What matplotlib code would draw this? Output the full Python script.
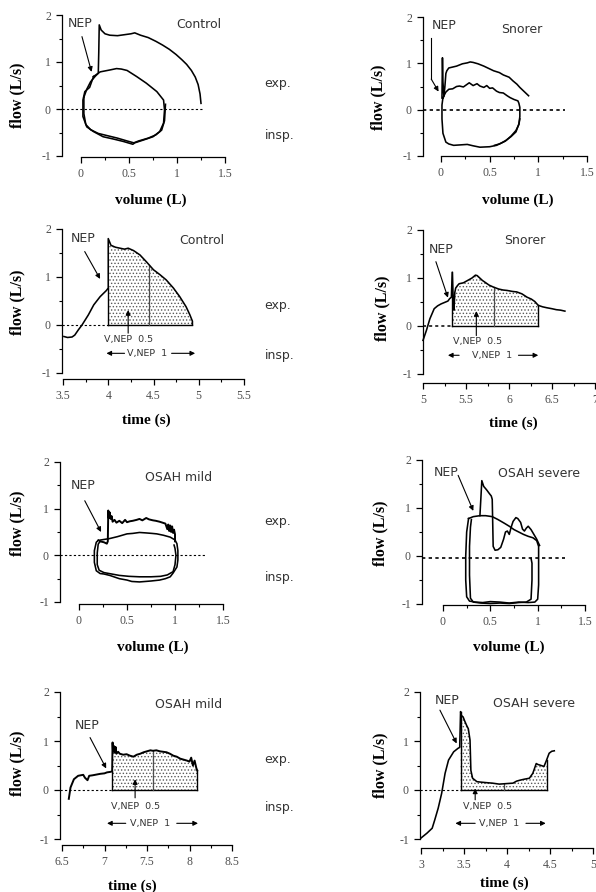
import numpy as np
import matplotlib
matplotlib.use("Agg")
import matplotlib.pyplot as plt
import matplotlib.transforms as mtransforms
from matplotlib.ticker import MultipleLocator, FuncFormatter

W, H = 596, 892
SANS = ["DejaVu Sans"]

plt.rcParams["font.family"] = ["Liberation Serif", "DejaVu Serif"]
plt.rcParams["axes.unicode_minus"] = False
plt.rcParams["hatch.linewidth"] = 0.6

# ---------------- data ----------------
# Control, flow-volume
ctrl_nep_vol = [0.03, 0.06, 0.10, 0.15, 0.18, 0.185, 0.19, 0.21, 0.25, 0.30, 0.38, 0.45,
                0.52, 0.56, 0.62, 0.70, 0.78, 0.85, 0.92, 0.99, 1.05, 1.10, 1.15, 1.19,
                1.22, 1.24, 1.25]
ctrl_nep_flow = [0.25, 0.42, 0.58, 0.70, 0.76, 1.20, 1.79, 1.68, 1.60, 1.57, 1.56, 1.58,
                 1.60, 1.62, 1.57, 1.52, 1.44, 1.36, 1.27, 1.16, 1.05, 0.95, 0.82, 0.68,
                 0.52, 0.32, 0.12]
ctrl_loop_vol = [0.13, 0.20, 0.30, 0.37, 0.42, 0.48, 0.58, 0.68, 0.79, 0.86, 0.87, 0.86,
                 0.82, 0.75, 0.65, 0.56, 0.54, 0.44, 0.34, 0.23, 0.13, 0.06, 0.02, 0.02,
                 0.04, 0.09, 0.13]
ctrl_loop_flow = [0.69, 0.79, 0.83, 0.86, 0.85, 0.82, 0.69, 0.55, 0.37, 0.19, -0.02, -0.30,
                  -0.48, -0.59, -0.66, -0.72, -0.75, -0.69, -0.64, -0.59, -0.48, -0.38,
                  -0.16, 0.19, 0.37, 0.46, 0.69]
ctrl_insp_vol = [0.88, 0.87, 0.84, 0.78, 0.70, 0.60, 0.55, 0.48, 0.38, 0.28, 0.18, 0.10,
                 0.05, 0.03, 0.03, 0.03]
ctrl_insp_flow = [0.10, -0.25, -0.45, -0.55, -0.62, -0.68, -0.72, -0.68, -0.62, -0.57,
                  -0.52, -0.44, -0.33, -0.10, 0.10, 0.25]

# Snorer, flow-volume
snr_nep_vol = [0.01, 0.015, 0.02, 0.03, 0.04, 0.05, 0.06, 0.08, 0.12, 0.16, 0.22, 0.27,
               0.30, 0.33, 0.38, 0.44, 0.50, 0.54, 0.60, 0.64, 0.70, 0.74, 0.78, 0.81,
               0.86, 0.90]
snr_nep_flow = [0.25, 1.12, 0.60, 0.28, 0.50, 0.78, 0.84, 0.90, 0.92, 0.94, 0.99, 1.01,
                1.03, 1.02, 0.99, 0.94, 0.88, 0.84, 0.80, 0.75, 0.70, 0.62, 0.55, 0.48,
                0.38, 0.30]
snr_loop_vol = [0.02, 0.05, 0.08, 0.12, 0.16, 0.19, 0.23, 0.27, 0.29, 0.33, 0.37, 0.40,
                0.44, 0.47, 0.50, 0.53, 0.57, 0.60, 0.64, 0.68, 0.71, 0.75, 0.79, 0.80,
                0.81, 0.81, 0.80, 0.77, 0.72, 0.67, 0.62, 0.57, 0.50, 0.40, 0.33, 0.27,
                0.20, 0.13, 0.08, 0.05, 0.02, 0.01, 0.01, 0.02]
snr_loop_flow = [0.26, 0.38, 0.44, 0.45, 0.50, 0.51, 0.49, 0.55, 0.58, 0.52, 0.56, 0.51,
                 0.48, 0.52, 0.46, 0.47, 0.40, 0.37, 0.36, 0.30, 0.26, 0.22, 0.19, 0.14,
                 0.05, -0.15, -0.31, -0.48, -0.58, -0.66, -0.72, -0.77, -0.80, -0.81,
                 -0.78, -0.75, -0.76, -0.77, -0.74, -0.70, -0.51, -0.20, 0.10, 0.26]
snr_insp_vol = [0.81, 0.80, 0.77, 0.72, 0.66, 0.60, 0.55]
snr_insp_flow = [-0.20, -0.32, -0.45, -0.57, -0.68, -0.74, -0.77]

# Control, flow-time
ctrl_t = [3.51, 3.55, 3.60, 3.63, 3.67, 3.71, 3.78, 3.84, 3.91, 3.98, 4.00, 4.00, 4.03,
          4.08, 4.13, 4.18, 4.22, 4.28, 4.35, 4.42, 4.50, 4.57, 4.64, 4.72, 4.79, 4.86,
          4.90, 4.93, 4.93]
ctrl_flow = [-0.24, -0.26, -0.25, -0.21, -0.10, 0.00, 0.21, 0.42, 0.59, 0.72, 0.77, 1.80,
             1.66, 1.62, 1.60, 1.58, 1.60, 1.55, 1.46, 1.32, 1.15, 1.05, 0.94, 0.77, 0.59,
             0.38, 0.22, 0.08, 0.00]
ctrl_nep_t, ctrl_end_t, ctrl_half_t = 4.00, 4.93, 4.45

# Snorer, flow-time
snr_t = [5.00, 5.04, 5.08, 5.13, 5.17, 5.21, 5.25, 5.29, 5.31, 5.33, 5.34, 5.35, 5.36,
         5.37, 5.38, 5.40, 5.42, 5.47, 5.52, 5.57, 5.61, 5.63, 5.66, 5.69, 5.73, 5.77,
         5.82, 5.88, 5.93, 5.98, 6.04, 6.09, 6.15, 6.21, 6.26, 6.30, 6.34, 6.39, 6.44,
         6.50, 6.55, 6.60, 6.65]
snr_flow = [-0.30, -0.09, 0.15, 0.36, 0.42, 0.46, 0.49, 0.52, 0.57, 0.60, 1.12, 0.60,
            0.33, 0.70, 0.79, 0.84, 0.88, 0.90, 0.95, 1.00, 1.06, 1.05, 1.00, 0.95, 0.90,
            0.85, 0.81, 0.77, 0.75, 0.74, 0.72, 0.71, 0.67, 0.60, 0.56, 0.51, 0.43, 0.40,
            0.38, 0.36, 0.34, 0.33, 0.31]
snr_nep_t, snr_end_t, snr_half_t = 5.34, 6.34, 5.83

# OSAH mild, flow-volume
mild_loop_vol = [0.20, 0.26, 0.32, 0.40, 0.50, 0.56, 0.63, 0.70, 0.76, 0.81, 0.88, 0.95,
                 1.00, 1.02, 1.03, 1.03, 1.02, 0.98, 0.95, 0.90, 0.84, 0.75, 0.63, 0.55,
                 0.50, 0.42, 0.32, 0.26, 0.22, 0.18, 0.16, 0.16, 0.18, 0.20]
mild_loop_flow = [0.32, 0.34, 0.36, 0.40, 0.46, 0.47, 0.49, 0.48, 0.47, 0.46, 0.43, 0.39,
                  0.33, 0.25, 0.10, -0.10, -0.25, -0.38, -0.46, -0.50, -0.53, -0.55,
                  -0.57, -0.56, -0.53, -0.50, -0.43, -0.40, -0.39, -0.33, -0.15, 0.10,
                  0.28, 0.32]
mild_insp_vol = [0.22, 0.20, 0.19, 0.19, 0.21, 0.26, 0.34, 0.42, 0.52, 0.63, 0.75, 0.85,
                 0.92, 0.98, 1.00, 1.01, 1.00, 0.99]
mild_insp_flow = [0.30, 0.24, 0.05, -0.20, -0.32, -0.37, -0.40, -0.43, -0.45, -0.46,
                  -0.46, -0.45, -0.42, -0.35, -0.20, 0.00, 0.15, 0.22]
mild_nep_vol = [0.22, 0.26, 0.29, 0.30, 0.305, 0.31, 0.32, 0.33, 0.34, 0.35, 0.37, 0.39,
                0.42, 0.45, 0.48, 0.50, 0.53, 0.56, 0.60, 0.63, 0.66, 0.70, 0.73, 0.77,
                0.80, 0.84, 0.87, 0.90, 0.92, 0.93, 0.94, 0.95, 0.96, 0.97, 0.98, 0.99,
                1.00, 1.00]
mild_nep_flow = [0.30, 0.28, 0.25, 0.30, 0.96, 0.80, 0.92, 0.78, 0.84, 0.72, 0.76, 0.70,
                 0.74, 0.69, 0.76, 0.71, 0.73, 0.74, 0.76, 0.78, 0.75, 0.80, 0.77, 0.75,
                 0.74, 0.72, 0.70, 0.68, 0.56, 0.66, 0.52, 0.64, 0.50, 0.62, 0.48, 0.55,
                 0.45, 0.30]

# OSAH severe, flow-volume
sev_loop_vol = [0.27, 0.32, 0.39, 0.45, 0.52, 0.58, 0.65, 0.70, 0.75, 0.80, 0.85, 0.90,
                0.95, 0.99, 1.01, 1.01, 1.01, 1.00, 0.97, 0.90, 0.80, 0.70, 0.60, 0.50,
                0.42, 0.34, 0.28, 0.25, 0.24, 0.24, 0.25, 0.27]
sev_loop_flow = [0.78, 0.82, 0.84, 0.84, 0.82, 0.76, 0.68, 0.62, 0.55, 0.50, 0.45, 0.41,
                 0.38, 0.32, 0.20, -0.20, -0.60, -0.90, -0.96, -0.97, -0.96, -0.98, -0.96,
                 -0.95, -0.97, -0.96, -0.94, -0.85, -0.50, 0.00, 0.50, 0.78]
sev_insp_vol = [0.30, 0.29, 0.28, 0.28, 0.29, 0.32, 0.40, 0.50, 0.60, 0.70, 0.80, 0.88,
                0.93, 0.94, 0.94, 0.93]
sev_insp_flow = [0.76, 0.60, 0.20, -0.40, -0.88, -0.96, -0.98, -0.99, -0.98, -0.99, -0.97,
                 -0.96, -0.90, -0.50, -0.15, -0.05]
sev_nep_vol = [0.39, 0.40, 0.41, 0.43, 0.46, 0.49, 0.51, 0.52, 0.525, 0.53, 0.55, 0.58,
               0.61, 0.64, 0.66, 0.68, 0.70, 0.72, 0.74, 0.77, 0.79, 0.82, 0.84, 0.86,
               0.88, 0.90, 0.93, 0.96, 0.99, 1.02]
sev_nep_flow = [0.84, 1.20, 1.57, 1.45, 1.38, 1.30, 1.25, 1.18, 0.70, 0.20, 0.12, 0.13,
                0.18, 0.35, 0.50, 0.52, 0.45, 0.60, 0.72, 0.80, 0.78, 0.70, 0.56, 0.52,
                0.58, 0.62, 0.55, 0.45, 0.35, 0.22]

# OSAH mild, flow-time
mildt_t = [6.58, 6.60, 6.64, 6.69, 6.75, 6.77, 6.80, 6.82, 6.86, 6.89, 6.95, 7.00, 7.03,
           7.07, 7.09, 7.095, 7.10, 7.11, 7.12, 7.13, 7.14, 7.16, 7.18, 7.22, 7.26, 7.30,
           7.34, 7.38, 7.42, 7.46, 7.50, 7.54, 7.57, 7.61, 7.65, 7.69, 7.73, 7.77, 7.81,
           7.85, 7.89, 7.93, 7.97, 8.00, 8.02, 8.04, 8.06, 8.08, 8.09]
mildt_flow = [-0.18, 0.05, 0.22, 0.29, 0.31, 0.25, 0.20, 0.29, 0.30, 0.31, 0.33, 0.34,
              0.36, 0.37, 0.38, 0.97, 0.80, 0.90, 0.76, 0.88, 0.74, 0.78, 0.74, 0.72,
              0.73, 0.70, 0.68, 0.72, 0.74, 0.77, 0.79, 0.81, 0.80, 0.81, 0.79, 0.78,
              0.77, 0.74, 0.70, 0.68, 0.64, 0.62, 0.60, 0.58, 0.66, 0.50, 0.60, 0.45, 0.40]
mildt_nep_t, mildt_end_t, mildt_half_t = 7.09, 8.09, 7.57

# OSAH severe, flow-time
sevt_t = [3.00, 3.07, 3.13, 3.16, 3.20, 3.24, 3.28, 3.32, 3.38, 3.43, 3.45, 3.46, 3.47,
          3.49, 3.51, 3.53, 3.55, 3.57, 3.58, 3.60, 3.65, 3.70, 3.76, 3.83, 3.91, 3.99,
          4.07, 4.11, 4.15, 4.20, 4.26, 4.30, 4.34, 4.36, 4.38, 4.43, 4.46, 4.49, 4.52,
          4.55]
sevt_flow = [-0.98, -0.88, -0.78, -0.61, -0.37, -0.07, 0.34, 0.61, 0.78, 0.85, 0.87, 1.60,
             1.52, 1.49, 1.40, 1.32, 1.25, 1.02, 0.40, 0.24, 0.17, 0.16, 0.15, 0.14, 0.12,
             0.13, 0.14, 0.18, 0.20, 0.22, 0.24, 0.34, 0.54, 0.52, 0.51, 0.48, 0.61, 0.75,
             0.79, 0.80]
sevt_nep_t, sevt_end_t, sevt_half_t = 3.46, 4.46, 3.96

y_ticks = [-1, 0, 1, 2]

# ---------------- figure ----------------
fig = plt.figure(figsize=(W / 100, H / 100), dpi=100)
PX = mtransforms.Affine2D().scale(1 / W, -1 / H).translate(0, 1) + fig.transFigure
ARW = dict(arrowstyle="-|>", color="k", lw=0.8, mutation_scale=7, shrinkA=0, shrinkB=0)


def make_axes(left, x0px, x1px, top, bot, xr, step, drop, xlab, xlab_xy, ylab_xy):
    """Axes placed in pixels, with detached spines like the paper figure"""
    x0, x1 = xr
    scale = (x1px - x0px) / (x1 - x0)
    xmin = x0 - (x0px - left) / scale
    ax = fig.add_axes([left / W, 1 - bot / H, (x1px - left) / W, (bot - top) / H])
    ax.set_xlim(xmin, x1)
    ax.set_ylim(-1, 2)
    ax.patch.set_alpha(0)
    for s in ("top", "right"):
        ax.spines[s].set_visible(False)
    ax.spines["left"].set_bounds(-1, 2)
    ax.spines["bottom"].set_bounds(x0, x1)
    ax.spines["bottom"].set_position(("outward", drop * 0.72))
    for s in ("left", "bottom"):
        ax.spines[s].set_linewidth(0.9)
    ax.xaxis.set_major_locator(MultipleLocator(step))
    ax.xaxis.set_minor_locator(MultipleLocator(step / 2))
    ax.set_yticks(y_ticks)
    ax.yaxis.set_minor_locator(MultipleLocator(0.5))
    ax.xaxis.set_major_formatter(FuncFormatter(lambda v, p: f"{v:g}"))
    ax.yaxis.set_major_formatter(FuncFormatter(lambda v, p: f"{v:g}"))
    ax.tick_params(which="major", direction="out", length=4, width=0.9,
                   labelsize=8.5, labelcolor="0.3", pad=4)
    ax.tick_params(which="minor", direction="out", length=2.2, width=0.8)
    ax.set_xlabel(xlab, fontsize=11, fontweight="bold")
    ax.xaxis.set_label_coords(*xlab_xy, transform=PX)
    ax.xaxis.label.set_va("center")
    ax.set_ylabel("flow (L/s)", fontsize=11.5, fontweight="bold")
    ax.yaxis.set_label_coords(*ylab_xy, transform=PX)
    ax.yaxis.label.set_va("center")
    return ax


def trace(ax, x, y, lw=1.15):
    ax.plot(x, y, color="k", lw=lw, clip_on=False, zorder=3)


def zero_line(ax, x_end, y=0.0, lw=0.8):
    ax.plot([ax.get_xlim()[0], x_end], [y, y], color="k", lw=lw,
            ls=(0, (2, 2)), zorder=2)


def label(ax, x, y, s, size=9):
    ax.text(x, y, s, family=SANS, fontsize=size, color="0.2",
            ha="center", va="center")


def nep_arrow(ax, txt_xy, start, end):
    label(ax, txt_xy[0], txt_xy[1], "NEP")
    ax.annotate("", xy=end, xytext=start, arrowprops=ARW)


def shade(ax, t, f, t0, t1, th):
    t = np.asarray(t)
    f = np.asarray(f)
    m = (t >= t0) & (t <= t1)
    ts, fs = t[m], f[m]
    ax.fill_between(ts, fs, 0, facecolor="white", edgecolor="0.35",
                    hatch=".....", linewidth=0, zorder=1)
    ax.plot([ts[0], ts[0]], [0, fs[0]], color="k", lw=1.0, zorder=3)
    ax.plot([ts[-1], ts[-1]], [0, fs[-1]], color="k", lw=1.0, zorder=3)
    ax.plot([ts[0], ts[-1]], [0, 0], color="k", lw=1.0, zorder=3)
    ax.plot([th, th], [0, np.interp(th, ts[1:], fs[1:])], color="0.3", lw=0.9, zorder=3)


def vnep(ax, up_x, up_y, half_xy, y1, left_arrow, mid_x, right_arrow):
    ax.annotate("", xy=(up_x, up_y[1]), xytext=(up_x, up_y[0]), arrowprops=ARW)
    label(ax, half_xy[0], half_xy[1], "V,NEP  0.5", size=6.8)
    ax.annotate("", xy=(left_arrow[0], y1), xytext=(left_arrow[1], y1), arrowprops=ARW)
    label(ax, mid_x, y1, "V,NEP  1", size=6.8)
    ax.annotate("", xy=(right_arrow[1], y1), xytext=(right_arrow[0], y1), arrowprops=ARW)


# Control flow-volume
ax = make_axes(62, 81, 225, 15, 156, (0, 1.5), 0.5, 1, "volume (L)", (151, 200), (17, 95))
zero_line(ax, 1.27)
trace(ax, ctrl_loop_vol, ctrl_loop_flow)
trace(ax, ctrl_insp_vol, ctrl_insp_flow)
trace(ax, ctrl_nep_vol, ctrl_nep_flow)
nep_arrow(ax, (-0.01, 1.82), (0.01, 1.54), (0.11, 0.79))
label(ax, 1.23, 1.79, "Control")

# Snorer flow-volume
ax = make_axes(423, 441, 587, 17, 156, (0, 1.5), 0.5, 0, "volume (L)", (518, 200), (378, 97))
zero_line(ax, 1.27, lw=1.2)
trace(ax, snr_loop_vol, snr_loop_flow)
trace(ax, snr_insp_vol, snr_insp_flow)
trace(ax, snr_nep_vol, snr_nep_flow)
label(ax, 0.03, 1.82, "NEP")
ax.plot([-0.10, -0.10], [1.55, 0.66], color="k", lw=0.8)
ax.annotate("", xy=(-0.025, 0.39), xytext=(-0.10, 0.66), arrowprops=ARW)
label(ax, 0.83, 1.73, "Snorer")

# Control flow-time
ax = make_axes(62, 63, 244, 229, 373, (3.5, 5.5), 0.5, 6, "time (s)", (146, 420), (17, 302))
zero_line(ax, ctrl_nep_t)
shade(ax, ctrl_t, ctrl_flow, ctrl_nep_t, ctrl_end_t, ctrl_half_t)
trace(ax, ctrl_t, ctrl_flow)
nep_arrow(ax, (3.72, 1.81), (3.74, 1.53), (3.91, 0.96))
label(ax, 5.03, 1.76, "Control")
vnep(ax, 4.22, (-0.17, 0.31), (4.22, -0.30), -0.59, (3.98, 4.18), 4.43, (4.70, 4.96))

# Snorer flow-time
ax = make_axes(423, 423, 595, 230, 374, (5, 7), 0.5, 9, "time (s)", (513, 423), (382, 308))
zero_line(ax, snr_nep_t, lw=1.1)
shade(ax, snr_t, snr_flow, snr_nep_t, snr_end_t, snr_half_t)
trace(ax, snr_t, snr_flow)
nep_arrow(ax, (5.21, 1.60), (5.15, 1.34), (5.29, 0.59))
label(ax, 6.18, 1.78, "Snorer")
vnep(ax, 5.62, (-0.20, 0.31), (5.64, -0.33), -0.61, (5.29, 5.42), 5.80, (6.11, 6.34))

# OSAH mild flow-volume
ax = make_axes(60, 79, 223, 462, 602, (0, 1.5), 0.5, 2, "volume (L)", (153, 647), (17, 523))
zero_line(ax, 1.31)
trace(ax, mild_loop_vol, mild_loop_flow)
trace(ax, mild_insp_vol, mild_insp_flow)
trace(ax, mild_nep_vol, mild_nep_flow, lw=1.4)
nep_arrow(ax, (0.04, 1.49), (0.06, 1.17), (0.23, 0.50))
label(ax, 1.04, 1.67, "OSAH mild")

# OSAH severe flow-volume
ax = make_axes(422, 443, 585, 460, 604, (0, 1.5), 0.5, 1, "volume (L)", (509, 647), (380, 533))
zero_line(ax, 1.29, y=-0.05, lw=1.2)
trace(ax, sev_loop_vol, sev_loop_flow)
trace(ax, sev_insp_vol, sev_insp_flow)
trace(ax, sev_nep_vol, sev_nep_flow)
nep_arrow(ax, (0.035, 1.73), (0.16, 1.68), (0.32, 0.94))
label(ax, 1.01, 1.71, "OSAH severe")

# OSAH mild flow-time
ax = make_axes(60, 62, 232, 692, 839, (6.5, 8.5), 0.5, 6, "time (s)", (132, 886), (17, 763))
zero_line(ax, mildt_nep_t)
shade(ax, mildt_t, mildt_flow, mildt_nep_t, mildt_end_t, mildt_half_t)
trace(ax, mildt_t, mildt_flow, lw=1.4)
nep_arrow(ax, (6.80, 1.31), (6.83, 1.07), (7.02, 0.44))
label(ax, 7.99, 1.75, "OSAH mild")
vnep(ax, 7.36, (-0.16, 0.22), (7.36, -0.33), -0.68, (7.03, 7.25), 7.54, (7.85, 8.10))

# OSAH severe flow-time
ax = make_axes(420, 421, 593, 692, 839, (3, 5), 0.5, 9, "time (s)", (504, 883), (380, 765))
zero_line(ax, sevt_nep_t)
shade(ax, sevt_t, sevt_flow, sevt_nep_t, sevt_end_t, sevt_half_t)
trace(ax, sevt_t, sevt_flow)
nep_arrow(ax, (3.30, 1.83), (3.22, 1.63), (3.415, 0.95))
label(ax, 4.31, 1.76, "OSAH severe")
vnep(ax, 3.63, (-0.20, 0.03), (3.77, -0.34), -0.68, (3.40, 3.63), 3.91, (4.22, 4.45))

# exp. / insp. side labels
for y_exp, y_insp in [(84, 136), (305, 355), (522, 578), (760, 808)]:
    fig.text(278, y_exp, "exp.", transform=PX, family=SANS, fontsize=9,
             color="0.2", ha="center", va="center")
    fig.text(280, y_insp, "insp.", transform=PX, family=SANS, fontsize=9,
             color="0.2", ha="center", va="center")

fig.savefig("out.png", dpi=100)
